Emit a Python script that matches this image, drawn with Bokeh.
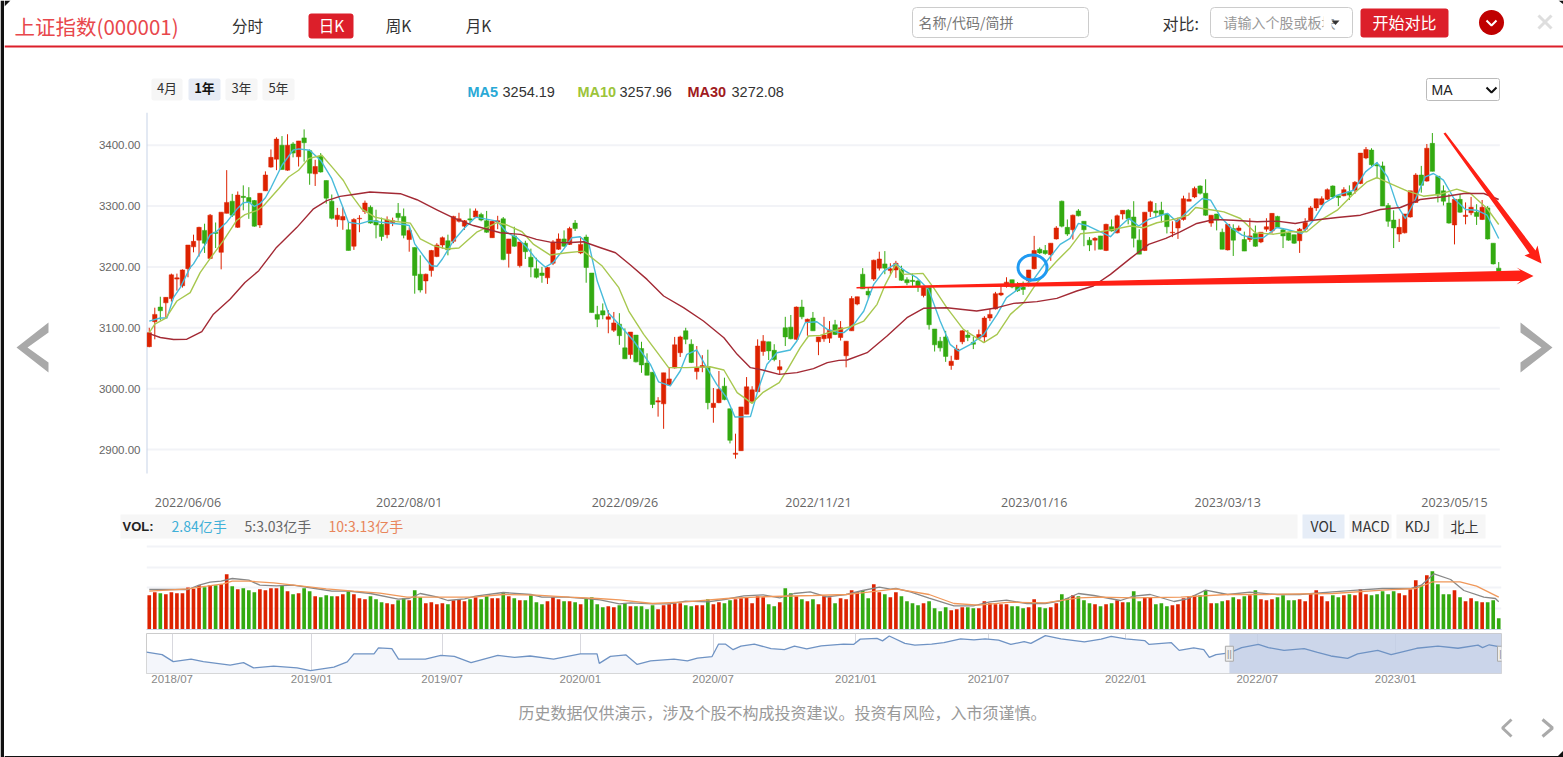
from bokeh.plotting import figure
from bokeh.embed import file_html
from bokeh.resources import INLINE
from bokeh.layouts import column, row
from bokeh.core.properties import value
from bokeh.models import (Range1d, FixedTicker, BoxAnnotation,
                          NumeralTickFormatter, ColumnDataSource)

open_ = [3069,3110,3134,3141,3148,3180,3169,3197,3233,3244,
 3260,3214,3257,3224,3288,3308,3265,3316,3314,3309,
 3269,3325,3364,3377,3400,3359,3402,3381,3412,3391,
 3353,3382,3342,3308,3278,3277,3261,3234,3279,3291,
 3298,3276,3270,3253,3273,3288,3283,3245,3232,3188,
 3177,3194,3217,3236,3243,3242,3275,3267,3279,3282,
 3286,3276,3248,3274,3279,3222,3251,3202,3239,3216,
 3197,3190,3182,3206,3229,3246,3237,3272,3223,3249,
 3190,3122,3128,3114,3096,3106,3067,3056,3088,3066,
 3042,3027,2978,2975,3006,3034,3059,3095,3073,3028,
 3035,3035,2969,2977,3004,2967,2892,2898,2958,2979,
 2995,3061,3077,3063,3031,3100,3101,3081,3134,3110,
 3116,3077,3082,3083,3105,3084,3054,3095,3139,3188,
 3160,3180,3198,3205,3194,3195,3195,3179,3178,3177,
 3153,3166,3098,3078,3085,3038,3048,3077,3088,3076,
 3083,3085,3116,3131,3154,3168,3179,3169,3167,3177,
 3197,3229,3227,3220,3246,3308,3265,3261,3292,3275,
 3244,3244,3251,3227,3266,3256,3287,3293,3282,3244,
 3227,3291,3292,3293,3287,3256,3264,3278,3308,3315,
 3333,3321,3272,3287,3257,3228,3263,3260,3245,3245,
 3255,3241,3262,3259,3283,3261,3256,3253,3243,3262,
 3277,3297,3302,3311,3333,3317,3317,3323,3326,3337,
 3379,3392,3368,3366,3301,3277,3254,3256,3282,3306,
 3351,3341,3403,3349,3325,3305,3269,3311,3283,3289,
 3290,3278,3297,3239,3198]
high = [3100,3133,3151,3150,3189,3189,3196,3236,3253,3266,
 3271,3287,3273,3290,3359,3320,3324,3334,3331,3310,
 3321,3357,3393,3413,3415,3418,3405,3407,3426,3393,
 3376,3387,3342,3319,3297,3298,3274,3280,3285,3309,
 3301,3294,3281,3283,3281,3305,3296,3265,3232,3219,
 3189,3228,3239,3250,3253,3284,3289,3277,3296,3296,
 3289,3292,3276,3284,3282,3246,3266,3241,3243,3230,
 3215,3200,3200,3244,3255,3260,3266,3277,3248,3253,
 3190,3136,3140,3129,3126,3124,3099,3093,3088,3077,
 3058,3027,2986,3026,3035,3085,3087,3100,3081,3070,
 3055,3064,3001,3029,3018,2967,2926,2970,3019,3004,
 3081,3088,3077,3073,3047,3118,3121,3135,3146,3115,
 3126,3085,3118,3111,3113,3111,3078,3152,3151,3198,
 3166,3212,3225,3226,3206,3210,3202,3183,3189,3179,
 3169,3166,3098,3085,3095,3054,3072,3096,3096,3085,
 3097,3119,3131,3159,3170,3183,3179,3175,3176,3195,
 3251,3232,3236,3239,3267,3309,3278,3286,3295,3275,
 3249,3249,3251,3271,3278,3286,3293,3295,3308,3262,
 3290,3309,3305,3307,3288,3275,3281,3317,3322,3332,
 3334,3344,3285,3287,3263,3270,3270,3268,3258,3280,
 3268,3257,3280,3288,3284,3264,3257,3253,3264,3280,
 3300,3312,3316,3329,3334,3317,3331,3334,3341,3387,
 3397,3395,3372,3373,3305,3293,3279,3287,3325,3354,
 3366,3402,3420,3349,3334,3320,3311,3320,3306,3315,
 3303,3310,3300,3239,3208]
low = [3068,3081,3112,3117,3143,3161,3166,3183,3224,3217,
 3223,3213,3231,3196,3288,3282,3264,3293,3279,3266,
 3264,3325,3363,3359,3360,3358,3380,3365,3373,3335,
 3333,3355,3304,3278,3266,3261,3227,3228,3257,3287,
 3271,3247,3243,3247,3267,3276,3247,3225,3156,3158,
 3156,3184,3216,3230,3219,3239,3273,3261,3271,3280,
 3275,3256,3248,3262,3211,3199,3233,3199,3213,3183,
 3181,3174,3172,3203,3228,3233,3236,3259,3221,3174,
 3125,3101,3114,3091,3093,3072,3049,3049,3043,3026,
 3022,2968,2954,2934,3005,3033,3052,3073,3042,3015,
 3027,2966,2944,2976,2981,2910,2885,2898,2958,2979,
 2994,3054,3047,3045,3024,3070,3081,3080,3114,3087,
 3095,3055,3077,3075,3088,3079,3035,3095,3137,3164,
 3148,3177,3194,3188,3188,3182,3177,3170,3169,3159,
 3150,3097,3061,3061,3044,3031,3047,3073,3078,3065,
 3081,3075,3111,3130,3152,3166,3165,3159,3154,3168,
 3196,3221,3220,3210,3245,3265,3251,3245,3283,3234,
 3226,3227,3229,3226,3258,3255,3278,3270,3232,3221,
 3226,3282,3281,3273,3255,3249,3246,3276,3308,3313,
 3319,3284,3266,3260,3229,3227,3218,3258,3226,3241,
 3233,3239,3258,3255,3265,3231,3243,3238,3223,3258,
 3277,3292,3302,3310,3312,3300,3316,3310,3320,3336,
 3377,3366,3345,3300,3266,3231,3241,3255,3281,3305,
 3322,3340,3357,3306,3301,3271,3237,3289,3270,3285,
 3269,3277,3245,3204,3190]
close = [3092,3122,3128,3150,3187,3182,3195,3236,3242,3265,
 3239,3285,3255,3290,3306,3285,3318,3314,3306,3267,
 3321,3351,3380,3410,3360,3400,3387,3407,3404,3354,
 3365,3356,3313,3280,3285,3283,3227,3278,3280,3305,
 3272,3269,3250,3277,3276,3281,3252,3260,3186,3162,
 3188,3227,3236,3248,3228,3283,3279,3276,3277,3292,
 3277,3257,3275,3276,3212,3246,3234,3241,3225,3200,
 3183,3186,3199,3241,3246,3234,3263,3263,3237,3199,
 3125,3114,3121,3118,3108,3087,3049,3093,3044,3039,
 3022,2974,2980,3026,3016,3072,3085,3081,3043,3035,
 3038,2977,2976,2999,2982,2915,2894,2970,3003,2998,
 3070,3078,3062,3048,3036,3085,3082,3134,3118,3114,
 3095,3085,3088,3096,3089,3100,3078,3148,3151,3164,
 3154,3211,3213,3198,3197,3206,3178,3174,3176,3169,
 3167,3105,3072,3067,3053,3045,3065,3095,3084,3073,
 3089,3116,3122,3156,3157,3175,3167,3161,3163,3195,
 3227,3223,3222,3239,3264,3267,3254,3285,3284,3261,
 3236,3247,3229,3270,3259,3284,3293,3279,3247,3221,
 3290,3307,3289,3286,3266,3257,3277,3312,3311,3329,
 3321,3285,3285,3277,3229,3270,3244,3264,3226,3251,
 3234,3257,3266,3288,3265,3251,3244,3239,3262,3273,
 3297,3312,3312,3327,3315,3314,3327,3318,3339,3387,
 3393,3368,3366,3300,3275,3264,3265,3287,3325,3351,
 3334,3395,3357,3318,3308,3272,3311,3290,3285,3298,
 3283,3298,3246,3205,3192]

ma5_x = [0,2,3.2,4.4,5.6,7.4,8,10,11,12,14,16,17,18,19,20,21,22,24,26,27,29,31,33,35,36,38,40,42,46,47,48,50,51,52,53,55,57,59,
 62.9,64.7,66.5,68.3,70,71.6,73,74.9,76.4,77.9,79.5,81,83,85.2,87.6,90.6,92.1,94.2,96,97.2,99,100.8,102.6,104.4,105.9,108.7,110.2,111.7,113.5,115.9,117.1,118.6,120.7,122.6,124.7,
 125.6,127.4,129.2,131,132.8,135,136.7,138.8,140.9,143,144.8,146.3,148.5,150.9,153.3,155,157.5,159.9,162.3,164.7,166.5,168,169.8,171.7,173.8,175.6,177.1,178.9,180.7,182.5,184.1,185.8,
 186.4,188.3,190.4,191.9,193.7,195.5,197.6,199.7,201.5,203.9,205.7,208.4,210.5,212.4,214.8,217.8,219.9,222,223.9,225.6,227.1,228.6,230.7,232.2,234,235.9,238,240,241.9,244]
ma5 = [3111,3116,3116,3150,3166,3199,3205,3235,3253,3257,3273.5,3296.6,3305.4,3306.5,3299.3,3303.8,3313.7,3330,3367,3391.8,3394,3391.8,3375,3345,3298,3273.5,3270.8,3276,3273.5,3269.7,3268,3237.8,3213,3202,3201,3213,3243,3264,3281.8,
 3275.3,3256.2,3248,3231.5,3212.4,3199.8,3206.9,3228.8,3248,3249.6,3237,3176.8,3124.8,3102.9,3078.3,3040,3011,3004.4,3029,3056.4,3063.5,3034.5,3007,2985.2,2953.5,2954,3001.6,3040,3059,3063.5,3078.3,3108.4,3110,3097.4,3092,
 3092,3105.6,3127.5,3171.4,3193.2,3205.3,3193.2,3182.3,3163.1,3111.1,3072.8,3061.9,3072.8,3089.2,3122,3149.5,3165.9,3179.5,3209.7,3237,3246.9,3271.5,3267.2,3259,3249.6,3267.2,3279.7,3267.2,3278.1,3283.6,3288,3274.3,
 3279.6,3296,3312.4,3309.7,3282.3,3264.8,3252.2,3246.7,3248.4,3264.8,3261.5,3254.9,3276.8,3304.2,3317.9,3326,3356.2,3371.5,3348,3301.5,3279.6,3304.2,3348,3353.5,3342.5,3312.4,3294.3,3293.2,3285,3246.7]

ma10_x = [0,1,3,5,7.4,9.2,10.7,13.4,15.8,17.3,19.5,20.7,23.4,25.2,27,28.8,31.2,33.3,35.1,36.6,38.4,40.8,44.2,47.2,49,51.4,53.8,56,59.2,
 62.9,64.7,67.4,69.5,72.5,75.5,78.5,81.9,84.9,86.7,89.4,91.2,93.9,97.2,101.4,103.9,106.3,109,110.9,113.9,115.6,117.7,119.2,121.3,123.7,
 126.8,129.2,131.6,133.1,135,136.4,139.9,141.8,144.2,147.2,150.9,153.3,155.7,158.1,160.5,164.1,166.5,168.4,172,174.4,177.4,179.8,182.2,185.2,187.9,
 189.2,192.5,194.3,197.3,200,203.3,206.3,209.3,211.8,214.8,217.8,220.2,222,224.4,227.4,230.4,233.4,236.4,238.9,241.9,244]
ma10 = [3092,3106,3115.7,3144,3157.8,3190.7,3209.9,3243.3,3276.3,3286,3292.8,3301,3328.5,3347.8,3358.8,3378,3383.5,3361.5,3342,3317.5,3295.5,3281.8,3275,3271.9,3246,3235,3229.5,3231,3257,
 3272.6,3268.8,3257.8,3237,3219.5,3223.3,3226,3201.4,3165.9,3127.5,3089.2,3067.3,3034.5,3034.5,3036,3030.6,2993.4,2975.9,2993.4,3009.9,3034.5,3067.3,3086.5,3087.6,3094.7,
 3101.8,3111.1,3138.5,3171.4,3204.2,3187.8,3189.4,3165.9,3133,3097.4,3075.6,3089.2,3122,3141.2,3174.1,3209.7,3231.6,3254.6,3257.8,3261.7,3267.2,3264.4,3272.6,3278.1,3285.2,
 3297.6,3293.2,3290.5,3279.6,3256,3253.8,3257.7,3257.7,3276.8,3293.2,3320.6,3339.8,3346.9,3337,3325,3316.2,3319.5,3327.7,3320.6,3296,3269.7]

ma30_x = [0,2,4.4,6.8,9.5,11.6,14.6,17.3,19.8,23,26.7,29.7,32.1,34.5,36.9,39.9,43,45.4,48.4,52,55,58.6,
 63.5,67.1,70,72.5,75.5,78.5,81.6,84.3,87,90,93,96.6,100.2,103.9,106.3,108.7,110.9,113.9,117.1,120.1,122.6,124.7,
 126.2,129.8,133.4,137,140,144.2,149.6,153.3,156.3,160.5,164.1,167.7,170.7,173.8,177.4,180.7,183.8,
 186.4,189.4,192.5,196,200.3,203.9,207.2,210.5,214.8,219,222.6,226.2,229.8,234,237.7,241.3,244]
ma30 = [3090.5,3084,3080.7,3081.2,3093.8,3122.3,3147,3174.5,3193.8,3232,3265,3295.5,3309,3315.9,3319,3323,3321.4,3320.3,3310.4,3293.9,3280.7,3268,
 3256.2,3253.4,3245.2,3240.8,3239.8,3241.4,3231.5,3223.3,3203.1,3179.5,3152.2,3133,3111.1,3083.7,3056.4,3034.5,3030.6,3023.5,3026.3,3032.8,3042.7,3046.5,
 3047.1,3059.1,3086.5,3116.6,3132,3133,3127.5,3133,3140.1,3142.9,3148.4,3160.4,3168.6,3187.8,3214,3237,3246.9,
 3257.7,3271.4,3278,3276.8,3274.1,3275.2,3271.4,3276.8,3281.2,3285,3294.3,3297.6,3310.8,3315.2,3320.6,3320.6,3310.8]

volume = [3.43,3.73,3.63,3.53,3.73,3.63,3.63,4.2,4.07,4.43,4.23,4.43,4.43,4.53,5.53,4.33,4.03,4.13,3.93,3.73,
 4.03,3.93,4.13,4.13,4.43,3.83,3.53,3.63,4.13,3.83,3.33,3.23,3.43,3.33,3.33,3.53,3.83,3.53,3.13,3.03,
 3.33,3.03,2.73,2.63,2.53,2.93,3.13,2.93,3.93,3.23,2.63,2.73,2.53,2.63,2.53,2.93,3.03,2.83,3.03,3.23,
 3.03,3.33,3.13,3.13,3.73,3.33,3.13,2.93,2.93,3.43,2.73,2.53,2.83,3.23,3.03,2.83,2.83,2.73,2.53,3.13,
 3.23,2.53,2.23,2.33,2.23,2.43,2.63,2.33,2.33,2.33,2.03,2.43,2.03,2.43,2.53,2.63,2.63,2.43,2.33,2.43,
 2.43,3.03,2.53,2.73,2.63,2.93,3.03,3.13,3.23,2.63,3.33,3.23,2.53,2.33,2.73,4.13,3.63,3.33,3.03,2.83,
 3.03,2.53,3.33,3.23,2.63,3.13,3.03,3.93,3.73,3.93,3.13,4.53,3.73,3.53,3.23,3.73,3.33,2.83,2.63,2.43,
 2.63,2.83,2.13,1.83,2.23,1.93,2.03,2.23,2.23,2.13,2.13,2.83,2.63,2.53,2.53,2.53,2.33,2.33,2.13,2.23,
 3.03,2.23,2.13,2.23,2.63,3.53,3.13,3.43,3.33,2.93,2.63,2.53,2.33,2.53,2.63,2.93,2.73,2.73,3.83,2.83,
 3.23,3.23,2.53,2.63,2.33,2.43,2.53,3.13,3.33,3.43,3.43,3.93,2.63,2.63,2.83,2.93,3.23,3.03,3.33,3.43,
 3.93,3.03,2.93,3.03,3.23,3.43,2.93,2.93,3.03,2.83,3.63,3.93,3.33,2.83,3.43,3.23,3.43,3.53,3.43,4.03,
 3.53,3.43,3.53,3.83,3.53,3.83,3.63,3.43,4.03,4.93,4.43,5.43,5.83,4.53,3.53,3.53,3.93,3.23,2.83,3.13,
 2.83,2.73,2.73,2.93,1.13]

vol5_x = [0,7,9,11,13,15,18,20,23,26,30,33,36,40,45,47,49,52,54,57,59,64,69,71,75.5,79,81.5,85,
 87,91,94,97,101,104,107.5,111,114,116.6,119.5,122.5,126,129,132,134,135,137.6,141,145.5,149,152,155,158.7,162,165,168,170.8,
 175.6,178,181,185.3,187.7,191,195,199,204,208,214,219,223,228,230,232.3,235.3,237.7,241.3,243.4,244]
vol5 = [4.0,4.0,4.43,4.73,4.83,5.1,4.93,4.43,4.37,4.43,4.1,3.83,3.83,3.6,3.03,3.1,3.6,3.27,2.9,3.07,3.33,3.7,3.5,3.23,3.23,3.1,2.97,2.57,
 2.67,2.57,2.57,2.83,2.77,3.0,3.37,3.47,3.17,3.6,3.77,3.27,3.5,3.9,4.23,4.03,4.1,3.77,3.13,2.37,2.37,2.77,2.93,2.6,2.6,2.9,3.6,3.4,
 2.9,3.33,3.5,2.8,3.07,3.93,3.5,3.73,3.5,3.5,3.77,3.97,4.1,4.1,4.43,5.57,5.0,3.9,3.23,3.1,2.77]
vol10_x = [0,7,10.4,13.4,15,18,22.5,27.3,32,37,41.7,46.6,52.6,58.6,64,70,76,81,85,
 91,97,104.4,110.5,120,126,130,135,141,145.5,150,155.7,162,168,172,
 178,186.5,195,202,214,223,229,232,237,240,244]
vol10 = [3.83,4.07,4.33,4.57,4.83,4.83,4.67,4.37,4.07,3.83,3.63,3.23,3.23,3.23,3.5,3.43,3.23,3.1,2.97,
 2.6,2.77,3.1,3.27,3.4,3.5,3.73,4.07,3.5,2.6,2.43,2.73,2.67,3.17,3.23,
 3.17,3.23,3.5,3.5,3.6,3.93,4.1,4.77,4.77,4.33,3.23]

ov_x = [0,14,24,40,51,75,87,96,114,135,147,168,180,186,204,208,220,226,250,264,276,291,315,330,344,365,389,404,406,
 416,430,440,452,473,485,494,507,513,519,526,533,545,560,572,581,592,605,625,634,640,655,660,666,680,689,704,715,730,742,752,764,775,787,793,806,820,841,
 856,865,878,895,899,919,926,939,948,953,959,971,982,997,1006,1020,1038,1050,1062,1077,1086,1104,1116,1139,1158,1176,1194,1198,1204,1215]
ov_y = [3107,3019,2765,2854,2765,2639,2727,2537,2601,2537,2436,2563,2753,3044,3044,3259,3234,2854,2854,2993,2955,2727,2993,2917,2968,2854,3044,3044,2702,
 2956,3006,2664,2791,2854,2791,2892,2943,3399,3399,3196,3323,3399,3234,3196,3323,3222,3336,3399,3387,3577,3602,3513,3691,3424,3361,3399,3450,3589,3551,3589,3539,3387,3488,3424,3703,3589,3475,
 3576,3677,3589,3525,3386,3449,3170,3259,3196,2917,3019,3082,3272,3386,3272,3170,3234,3095,2968,2879,3044,3170,3019,3247,3323,3247,3361,3272,3373,3285]

price_ticks = [2900, 3000, 3100, 3200, 3300, 3400]
date_ticks = {7: "2022/06/06", 47: "2022/08/01", 86: "2022/09/26", 121: "2022/11/21",
              160: "2023/01/16", 195: "2023/03/13", 236: "2023/05/15"}
ov_ticks = {23: "2018/07", 148: "2019/01", 265: "2019/07", 389: "2020/01", 508: "2020/07",
            636: "2021/01", 755: "2021/07", 878: "2022/01", 996: "2022/07", 1120: "2023/01"}
ov_sel = [971, 1215]
vol_grid = [2.1, 4.2, 6.2, 8.3]

RED = "#dd2200"; GREEN = "#33aa11"; HEAD = "#dc1f2a"; DARK = "#111111"
CJK = "Noto Sans CJK SC"; LAT = "Liberation Sans"
X0 = 4; X1 = 1563; W = X1 - X0; L = 146 - X0; R = X1 - 1501


def stage(y0, y1, x0=X0, x1=X1):
    p = figure(width=x1 - x0, height=y1 - y0, x_range=Range1d(x0, x1), y_range=Range1d(y1, y0),
               x_axis_type=None, y_axis_type=None, toolbar_location=None, output_backend="svg",
               min_border=0, outline_line_color=None, frame_align=False)
    p.grid.visible = False
    return p


def box(p, x0, x1, y0, y1, fill=None, line=None, r=3):
    p.add_layout(BoxAnnotation(left=x0, right=x1, top=y0, bottom=y1, fill_color=fill, fill_alpha=1 if fill else 0,
                               line_color=line, line_alpha=1 if line else 0, line_width=1, border_radius=r, level="underlay"))


def t(p, x, y, s, size, color, align="left", bold=False, font=CJK):
    if font == CJK:
        y = y - 1
    p.text(x=[x], y=[y], text=[s], text_font=value(font), text_font_size=f"{size}px", text_color=color,
           text_align=align, text_baseline="middle", text_font_style="bold" if bold else "normal")


# ---------- window edge ----------
edge = stage(0, 757, 0, X0)
edge.quad(left=[0], right=[X0], top=[0], bottom=[757], fill_color=DARK, line_color=None)

# ---------- header ----------
h = stage(0, 112)
h.patch([4, 10, 4], [0, 0, 6], fill_color=DARK, line_color=None)
h.patch([1563, 1558, 1563], [0, 0, 4], fill_color=DARK, line_color=None)
t(h, 14, 26, "上证指数(000001)", 20.5, "#e8474c")
t(h, 247, 25, "分时", 15.5, "#333333", "center")
box(h, 308, 353, 13, 38, HEAD)
t(h, 331, 25, "日K", 15.5, "#ffffff", "center")
t(h, 398, 25, "周K", 15.5, "#333333", "center")
t(h, 478, 25, "月K", 15.5, "#333333", "center")
h.line([4, 1563], [46, 46], line_color=HEAD, line_width=2)
box(h, 912, 1088, 7, 37, "#ffffff", "#cccccc", 4)
t(h, 918, 22, "名称/代码/简拼", 14, "#777777")
t(h, 1162, 23, "对比:", 16, "#333333")
box(h, 1210, 1352, 7, 37, "#ffffff", "#cccccc", 4)
t(h, 1223, 22, "请输入个股或板块", 14, "#999999")
h.quad(left=[1323], right=[1331], top=[10], bottom=[34], fill_color="#ffffff", line_color=None)
h.patch([1331, 1339, 1335], [20, 20, 24.5], fill_color="#333333", line_color=None)
box(h, 1360, 1448, 8, 37, HEAD)
t(h, 1404, 22.5, "开始对比", 16, "#ffffff", "center")
h.circle(x=[1491], y=[22], radius=12.5, fill_color="#c00000", line_color=None)
h.line([1486, 1491, 1496], [20, 25, 20], line_color="#ffffff", line_width=2)
h.line([1538, 1551], [15, 28], line_color="#dedede", line_width=3)
h.line([1551, 1538], [15, 28], line_color="#dedede", line_width=3)
for x0, x1, s, act in [(151, 182, "4月", 0), (188, 220, "1年", 1), (225, 257, "3年", 0), (262, 294, "5年", 0)]:
    box(h, x0, x1, 78, 100, "#e6ebf5" if act else "#f6f6f6", None, 2)
    t(h, (x0 + x1) / 2, 88, s, 13, "#111111" if act else "#333333", "center", bool(act))
t(h, 467, 91, "MA5", 14.5, "#29a9d6", bold=True, font=LAT)
t(h, 502, 91, "3254.19", 14.5, "#333333", font=LAT)
t(h, 577, 91, "MA10", 14.5, "#9cc43a", bold=True, font=LAT)
t(h, 619, 91, "3257.96", 14.5, "#333333", font=LAT)
t(h, 687, 91, "MA30", 14.5, "#a01a20", bold=True, font=LAT)
t(h, 731, 91, "3272.08", 14.5, "#333333", font=LAT)
box(h, 1426, 1499, 78, 100, "#ffffff", "#bbbbbb", 2)
t(h, 1431, 89, "MA", 14, "#222222", font=LAT)
h.line([1486, 1491, 1496], [87, 92, 87], line_color="#111111", line_width=2)

# ---------- price chart ----------
PXX = 5.5306
PYY = 0.6086
LP_END = 70
FRAME_BOTTOM = 483
top_p = 3400 + (144.7 - 112) / PYY
bot_p = 3400 - (FRAME_BOTTOM - 144.7) / PYY
m = figure(width=X1 - LP_END, height=401, x_range=Range1d(-0.5, -0.5 + (X1 - 146) / PXX), y_range=Range1d(bot_p, top_p),
           toolbar_location=None, output_backend="svg", min_border_left=146 - LP_END, min_border_right=0, min_border_top=0,
           min_border_bottom=513 - FRAME_BOTTOM, outline_line_color=None, frame_align=False)
m.grid.visible = False
ya = m.yaxis[0]
ya.ticker = FixedTicker(ticks=price_ticks)
ya.formatter = NumeralTickFormatter(format="0.00")
ya.axis_line_color = None
ya.major_tick_line_color = None
ya.minor_tick_line_color = None
ya.major_label_text_color = "#666666"
ya.major_label_text_font = LAT
ya.major_label_text_font_size = "11.5px"
ya.major_label_standoff = 0
xa = m.xaxis[0]
xa.ticker = FixedTicker(ticks=list(date_ticks))
xa.major_label_overrides = date_ticks
xa.axis_line_color = None
xa.major_tick_line_color = None
xa.minor_tick_line_color = None
xa.major_label_text_color = "#666666"
xa.major_label_text_font = "Open Sans"
xa.major_label_text_font_size = "12.5px"
xa.major_label_standoff = 4

m.segment(x0=[-0.5] * 6, x1=[244.2] * 6, y0=price_ticks, y1=price_ticks, line_color="#f2f3f7", line_width=2)
m.line([-0.5, -0.5], [3400 - (473 - 144.7) / PYY, top_p], line_color="#c8d4e8", line_width=2)

idx = list(range(len(close)))
colors = [RED if c >= o else GREEN for o, c in zip(open_, close)]
src = ColumnDataSource(dict(x=idx, o=open_, h=high, l=low, c=close, color=colors, v=volume,
                            top=[max(a, b) for a, b in zip(open_, close)],
                            bot=[min(a, b) for a, b in zip(open_, close)]))
m.segment(x0="x", x1="x", y0="l", y1="h", line_color="color", line_width=1, source=src)
m.vbar(x="x", width=0.8, top="top", bottom="bot", fill_color="color", line_color="color", line_width=0.5, source=src)
m.line(ma5_x, ma5, line_color="#48bbdb", line_width=1.4, line_join="round")
m.line(ma10_x, ma10, line_color="#a8c850", line_width=1.4, line_join="round")
m.line(ma30_x, ma30, line_color="#a32a35", line_width=1.4, line_join="round")
m.ellipse(x=[159.7], y=[3199], width=29, height=25, width_units="screen", height_units="screen",
          fill_color=None, line_color="#1f9af2", line_width=3)


def shape(pts, color):
    m.patch([(a - 146) / PXX - 0.5 for a, _ in pts], [3400 - (b - 144.7) / PYY for _, b in pts],
            fill_color=color, line_color=None)


shape([(856, 286.5), (1520, 270), (1516, 267), (1533, 275.5), (1516, 284), (1520, 280.5), (856, 288)], "#ff2015")
shape([(1443, 133), (1445, 132), (1535, 250), (1537, 245), (1541, 263), (1524, 255), (1529, 253)], "#ff2015")
shape([(1520, 322), (1552, 347), (1520, 372), (1520, 362), (1541, 347), (1520, 332)], "#a9a9a9")

lp = stage(112, 513, X0, LP_END)
lp.patch([48, 16, 48, 48, 27, 48], [322, 347, 372, 362, 347, 332], fill_color="#a9a9a9", line_color=None)
mid = row(lp, m, spacing=0)

# ---------- VOL strip ----------
s = stage(513, 541)
box(s, 120, 1297, 514, 538, "#f6f6f6", None, 0)
t(s, 122, 526, "VOL:", 13, "#222222", bold=True, font=LAT)
t(s, 171, 526, "2.84亿手", 14, "#3fb0d8")
t(s, 244, 526, "5:3.03亿手", 14, "#666666")
t(s, 328, 526, "10:3.13亿手", 14, "#e8855a")
for x0, x1, lab, act in [(1302, 1344, "VOL", 1), (1349, 1391, "MACD", 0), (1396, 1438, "KDJ", 0), (1443, 1485, "北上", 0)]:
    box(s, x0, x1, 514, 538, "#e6edf7" if act else "#f6f6f6", None, 0)
    t(s, (x0 + x1) / 2, 526, lab, 14, "#333333", "center")

# ---------- volume ----------
v = figure(width=W, height=92, x_range=Range1d(-0.5, 244.5), y_range=Range1d(0, 8.8), toolbar_location=None,
           output_backend="svg", min_border_left=L, min_border_right=R, min_border_top=0, min_border_bottom=4,
           outline_line_color=None, frame_align=False)
v.yaxis.visible = False
v.xgrid.visible = False
v.ygrid.ticker = FixedTicker(ticks=vol_grid)
v.ygrid.grid_line_color = "#f2f3f7"
v.ygrid.grid_line_width = 2
vx = v.xaxis[0]
vx.ticker = FixedTicker(ticks=[])
vx.axis_line_color = "#c8d4e8"
vx.major_tick_line_color = None
vx.minor_tick_line_color = None
vx.major_label_text_font_size = "0px"
v.vbar(x="x", width=0.66, top="v", bottom=0, fill_color="color", line_color=None, source=src)
v.line(vol5_x, vol5, line_color="#888888", line_width=1.3)
v.line(vol10_x, vol10, line_color="#f0985a", line_width=1.3)

# ---------- overview ----------
o = figure(width=W, height=60, x_range=Range1d(0, 1215), y_range=Range1d(2336, 3780), toolbar_location=None,
           output_backend="svg", min_border_left=L, min_border_right=R, min_border_top=0, min_border_bottom=20,
           outline_line_color="#cccccc", frame_align=False)
o.yaxis.visible = False
o.ygrid.visible = False
o.xgrid.ticker = FixedTicker(ticks=list(ov_ticks))
o.xgrid.grid_line_color = "#d8d8de"
ox = o.xaxis[0]
ox.ticker = FixedTicker(ticks=list(ov_ticks))
ox.major_label_overrides = ov_ticks
ox.axis_line_color = None
ox.major_tick_line_color = None
ox.minor_tick_line_color = None
ox.major_label_text_color = "#888888"
ox.major_label_text_font = LAT
ox.major_label_text_font_size = "11.5px"
ox.major_label_standoff = -7
o.varea(x=ov_x, y1=[2336] * len(ov_x), y2=ov_y, fill_color="#f4f6fb")
o.quad(left=[ov_sel[0]], right=[ov_sel[1]], top=[3780], bottom=[2336], fill_color="#c3cfe6", fill_alpha=0.85, line_color=None)
o.line(ov_x, ov_y, line_color="#6f93c4", line_width=1.3)
for xh in ov_sel:
    o.rect(x=[xh], y=[3050], width=8, height=15, width_units="screen", height_units="screen",
           fill_color="#eeeeee", line_color="#aaaaaa")
    o.text(x=[xh], y=[3050], text=["||"], text_font_size="9px", text_color="#888888",
           text_align="center", text_baseline="middle")

# ---------- footer ----------
f = stage(693, 757)
f.quad(left=[4], right=[1563], top=[755.5], bottom=[757], fill_color=DARK, line_color=None)
f.patch([1563, 1557, 1563], [757, 756, 750], fill_color=DARK, line_color=None)
t(f, 782, 712, "历史数据仅供演示，涉及个股不构成投资建议。投资有风险，入市须谨慎。", 16, "#999999", "center")
f.line([1511, 1502, 1511], [719, 727.5, 736], line_color="#aaaaaa", line_width=3)
f.line([1542, 1552, 1542], [719, 727.5, 736], line_color="#aaaaaa", line_width=3)

page = row(edge, column(h, mid, s, v, o, f, spacing=0), spacing=0)
open("out.html", "w").write(file_html(page, INLINE))
